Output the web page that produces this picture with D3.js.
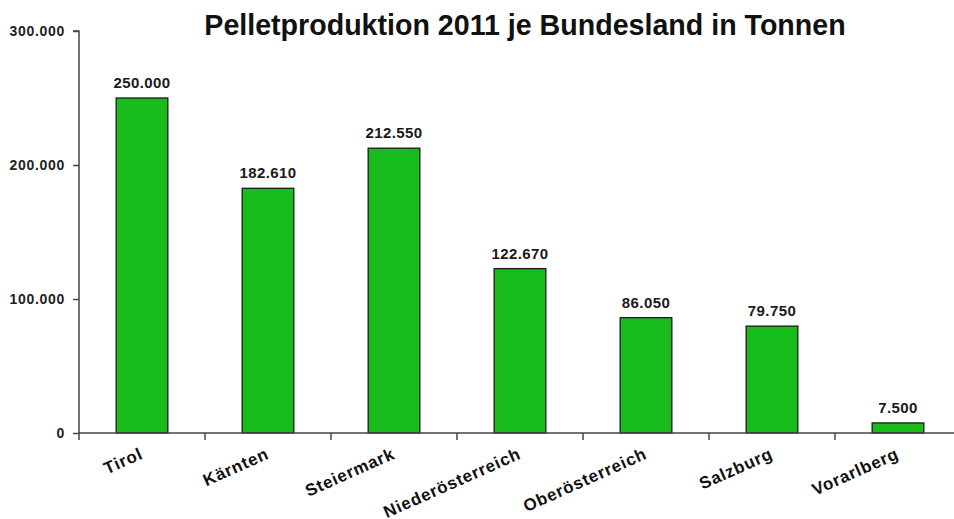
<!DOCTYPE html>
<html>
<head>
<meta charset="utf-8">
<script src="https://cdn.jsdelivr.net/npm/d3@7/dist/d3.min.js"></script>
<style>
  html, body { margin: 0; padding: 0; background: #fff; }
  svg { display: block; font-family: "Liberation Sans", Arial, sans-serif; }
</style>
</head>
<body>
<svg id="chart" width="954" height="519"></svg>
<script>
// Pellet production per federal state, 2011 (tonnes)
const states = ["Tirol", "Kärnten", "Steiermark", "Niederösterreich", "Oberösterreich", "Salzburg", "Vorarlberg"];
const tonnes = [250000, 182610, 212550, 122670, 86050, 79750, 7500];
const yTicks = [0, 100000, 200000, 300000];
const title = "Pelletproduktion 2011 je Bundesland in Tonnen";

const de = d3.formatLocale({ decimal: ",", thousands: ".", grouping: [3], currency: ["", " €"] });
const fmt = de.format(",d");

const svg = d3.select("#chart");
const plotLeft = 79, plotTop = 31, plotBottom = 433, bandW = 126;

const x = d3.scaleBand().domain(states).range([plotLeft, plotLeft + bandW * states.length]).paddingInner(0).paddingOuter(0);
const y = d3.scaleLinear().domain([0, 300000]).range([plotBottom, plotTop]);
const barW = bandW * 0.41;

// Title
svg.append("text")
  .attr("x", 525).attr("y", 35)
  .attr("text-anchor", "middle")
  .attr("font-size", 28.6).attr("font-weight", "bold")
  .attr("fill", "#111")
  .text(title);

// Bars
svg.append("g").selectAll("rect")
  .data(states)
  .join("rect")
  .attr("x", (d) => x(d) + x.bandwidth() / 2 - barW / 2)
  .attr("width", barW)
  .attr("y", (d, i) => y(tonnes[i]))
  .attr("height", (d, i) => y(0) - y(tonnes[i]))
  .attr("fill", "#19bd1b")
  .attr("stroke", "#1a1a1a")
  .attr("stroke-width", 1.3);

// Value labels
svg.append("g").selectAll("text")
  .data(states)
  .join("text")
  .attr("x", (d) => x(d) + x.bandwidth() / 2)
  .attr("y", (d, i) => y(tonnes[i]) - 10)
  .attr("text-anchor", "middle")
  .attr("font-size", 15).attr("font-weight", "bold")
  .attr("letter-spacing", 0.4)
  .attr("fill", "#1a1a1a")
  .text((d, i) => fmt(tonnes[i]));

// Y axis
const yAxis = svg.append("g")
  .attr("transform", `translate(${plotLeft},0)`)
  .call(d3.axisLeft(y).tickValues(yTicks).tickFormat(fmt).tickSize(6).tickPadding(8));
yAxis.selectAll("path, line").attr("stroke", "#444").attr("stroke-width", 1.5);
yAxis.select(".domain").attr("d", `M-6,${plotTop}H0V${plotBottom}`);
yAxis.selectAll("text")
  .attr("font-family", "'Liberation Sans', Arial, sans-serif")
  .attr("font-size", 14).attr("font-weight", "bold")
  .attr("letter-spacing", 0.7)
  .attr("fill", "#222");

// X axis: ticks at category boundaries
const xAxisG = svg.append("g");
xAxisG.append("line")
  .attr("x1", plotLeft).attr("x2", 954)
  .attr("y1", plotBottom).attr("y2", plotBottom)
  .attr("stroke", "#444").attr("stroke-width", 1.5);
const boundaries = states.map((d) => x(d));
xAxisG.selectAll("line.tick")
  .data(boundaries)
  .join("line")
  .attr("class", "tick")
  .attr("x1", (d) => d).attr("x2", (d) => d)
  .attr("y1", plotBottom).attr("y2", plotBottom + 7)
  .attr("stroke", "#444").attr("stroke-width", 1.5);

// Category labels, rotated
xAxisG.selectAll("text")
  .data(states)
  .join("text")
  .attr("transform", (d) => `translate(${x(d) + x.bandwidth() / 2 + 2},${458}) rotate(-24)`)
  .attr("text-anchor", "end")
  .attr("font-size", 17).attr("font-weight", "bold")
  .attr("letter-spacing", 0.8)
  .attr("fill", "#111")
  .text((d) => d);
</script>
</body>
</html>
